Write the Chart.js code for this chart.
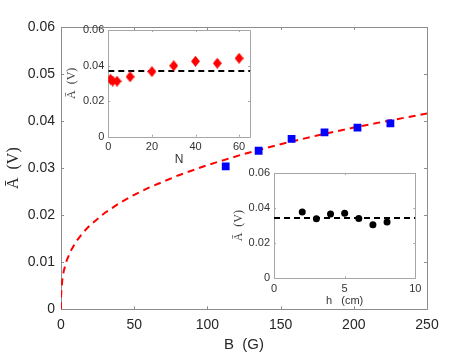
<!DOCTYPE html>
<html><head><meta charset="utf-8">
<script src="https://cdn.jsdelivr.net/npm/chart.js@4"></script>
<style>
html,body{margin:0;padding:0;background:#fff;}
#wrap{position:relative;width:472px;height:354px;overflow:hidden;}
canvas{position:absolute;}
</style></head><body>
<div id="wrap">
<canvas id="main" width="472" height="354" style="left:0;top:0"></canvas>
<canvas id="ins1" width="200" height="152" style="left:58px;top:18px"></canvas>
<canvas id="ins2" width="205" height="148" style="left:222px;top:160px"></canvas>
</div>
<script>
// ---- main panel data ----
const fieldB = [112.5, 135, 157.5, 180, 202.5, 225];
const ampB   = [0.0304, 0.0337, 0.0362, 0.0376, 0.0386, 0.0395];
const fitB = [0, 0.05, 0.25, 1, 2, 4, 7, 10, 15, 20, 30, 40, 50, 60, 80, 100, 125, 150, 175, 200, 225, 250];
const fitA = [0, 0.00243, 0.00416, 0.0066, 0.00832, 0.01048, 0.01263, 0.01423, 0.01629, 0.01793, 0.02052, 0.02258, 0.02433, 0.02585, 0.02845, 0.03065, 0.03302, 0.03509, 0.03694, 0.03862, 0.04016, 0.0416];
const mainXTicks = [0, 50, 100, 150, 200, 250];
const mainYTicks = [0, 0.01, 0.02, 0.03, 0.04, 0.05, 0.06];
const mainYLabels = ['0', '0.01', '0.02', '0.03', '0.04', '0.05', '0.06'];
// ---- inset 1 (N) ----
const nValues = [1, 2, 4, 10, 20, 30, 40, 50, 60];
const ampN    = [0.0323, 0.0313, 0.0312, 0.0337, 0.0366, 0.0399, 0.0424, 0.0413, 0.0441];
const meanN   = 0.037;
const insNXTicks = [0, 20, 40, 60];
// ---- inset 2 (h) ----
const hValues = [2, 3, 4, 5, 6, 7, 8];
const ampH    = [0.0378, 0.0339, 0.0366, 0.037, 0.0341, 0.0305, 0.0321];
const meanH   = 0.0343;
const insHXTicks = [0, 5, 10];
const insYTicks = [0, 0.02, 0.04, 0.06];
const insYLabels = ['0', '0.02', '0.04', '0.06'];

const SANS = 'Liberation Sans';
const SERIF = 'Liberation Serif';
const TXT = '#262626';

function framePlugin(len, color){
  return {
    id: 'frame',
    beforeDatasetsDraw(c){
      const a = c.chartArea, ctx = c.ctx;
      ctx.save();
      ctx.fillStyle = '#fff';
      ctx.fillRect(a.left, a.top, a.right - a.left, a.bottom - a.top);
      ctx.strokeStyle = color; ctx.lineWidth = 1;
      ctx.beginPath();
      ctx.rect(Math.round(a.left)+0.5, Math.round(a.top)+0.5, Math.round(a.right-a.left), Math.round(a.bottom-a.top));
      const xs = c.scales.x, ys = c.scales.y;
      xs.ticks.forEach(t => {
        const p = Math.round(xs.getPixelForValue(t.value)) + 0.5;
        ctx.moveTo(p, a.bottom); ctx.lineTo(p, a.bottom - len);
        ctx.moveTo(p, a.top); ctx.lineTo(p, a.top + len);
      });
      ys.ticks.forEach(t => {
        const p = Math.round(ys.getPixelForValue(t.value)) + 0.5;
        ctx.moveTo(a.left, p); ctx.lineTo(a.left + len, p);
        ctx.moveTo(a.right, p); ctx.lineTo(a.right - len, p);
      });
      ctx.stroke();
      ctx.restore();
    }
  };
}

function setTicks(arr){ return s => { s.ticks = arr.map(v => ({value: v})); }; }

function diamond(){
  const cv = document.createElement('canvas');
  cv.width = 9; cv.height = 11;
  const g = cv.getContext('2d');
  g.fillStyle = '#ff0000';
  g.beginPath(); g.moveTo(4.5, 0); g.lineTo(9, 5.5); g.lineTo(4.5, 11); g.lineTo(0, 5.5); g.closePath(); g.fill();
  return cv;
}

// ---- main chart ----
new Chart(document.getElementById('main'), {
  type: 'scatter',
  data: { datasets: [
    { data: fieldB.map((b, i) => ({x: b, y: ampB[i]})), pointStyle: 'rect', pointRadius: 5.5,
      backgroundColor: '#0000ff', borderColor: '#0000ff', borderWidth: 0, order: 0 },
    { data: fitB.map((b, i) => ({x: b, y: fitA[i]})), showLine: true, pointRadius: 0,
      borderColor: '#ff0000', borderWidth: 2, borderDash: [7, 5], fill: false, order: 1 }
  ]},
  options: {
    responsive: false, animation: false, devicePixelRatio: 1,
    layout: { padding: { left: 0, top: 27, right: 45, bottom: 0 } },
    plugins: { legend: { display: false }, tooltip: { enabled: false } },
    scales: {
      x: { type: 'linear', min: 0, max: 250, afterBuildTicks: setTicks(mainXTicks),
           afterFit: s => { s.height = 44.7; },
           grid: { display: false, drawTicks: false }, border: { display: false },
           ticks: { padding: 7, color: TXT, font: { family: SANS, size: 14 }, maxRotation: 0, autoSkip: false, callback: v => String(v) },
           title: { display: true, text: 'B  (G)', color: TXT, font: { family: SANS, size: 15 }, padding: { top: 0, bottom: 0 } } },
      y: { type: 'linear', min: 0, max: 0.06, afterBuildTicks: setTicks(mainYTicks),
           afterFit: s => { s.width = 61; },
           grid: { display: false, drawTicks: false }, border: { display: false },
           ticks: { padding: 6, color: TXT, font: { family: SANS, size: 14 }, autoSkip: false, callback: (v, i) => mainYLabels[i] },
           title: { display: true, text: 'Ā  (V)', color: TXT, font: { family: SERIF, size: 16 }, padding: { top: 4, bottom: 0 } } }
    }
  },
  plugins: [framePlugin(3, '#8c8c8c')]
});

// ---- inset 1 ----
new Chart(document.getElementById('ins1'), {
  type: 'scatter',
  data: { datasets: [
    { data: nValues.map((n, i) => ({x: n, y: ampN[i]})), pointStyle: diamond(), pointRadius: 5, order: 0 },
    { data: [{x: 0, y: meanN}, {x: 65, y: meanN}], showLine: true, pointRadius: 0,
      borderColor: '#000', borderWidth: 2, borderDash: [6, 4], order: 1 }
  ]},
  options: {
    responsive: false, animation: false, devicePixelRatio: 1,
    layout: { padding: { left: 0, top: 12, right: 8, bottom: 0 } },
    plugins: { legend: { display: false }, tooltip: { enabled: false } },
    scales: {
      x: { type: 'linear', min: 0, max: 65, afterBuildTicks: setTicks(insNXTicks),
           afterFit: s => { s.height = 33.3; },
           grid: { display: false, drawTicks: false }, border: { display: false },
           ticks: { padding: 4, color: '#333', font: { family: SANS, size: 11 }, maxRotation: 0, autoSkip: false, callback: v => String(v) },
           title: { display: true, text: 'N', color: '#333', font: { family: SANS, size: 12 }, padding: { top: 0, bottom: 3 } } },
      y: { type: 'linear', min: 0, max: 0.06, afterBuildTicks: setTicks(insYTicks),
           afterFit: s => { s.width = 50.3; },
           grid: { display: false, drawTicks: false }, border: { display: false },
           ticks: { padding: 4, color: '#333', font: { family: SANS, size: 11 }, autoSkip: false, callback: (v, i) => insYLabels[i] },
           title: { display: true, text: 'Ā  (V)', color: '#444', font: { family: SERIF, size: 12 }, padding: { top: 7, bottom: 0 } } }
    }
  },
  plugins: [framePlugin(2, '#a6a6a6')]
});

// ---- inset 2 ----
new Chart(document.getElementById('ins2'), {
  type: 'scatter',
  data: { datasets: [
    { data: hValues.map((h, i) => ({x: h, y: ampH[i]})), pointStyle: 'circle', pointRadius: 3.5,
      backgroundColor: '#000', borderColor: '#000', borderWidth: 0, order: 0 },
    { data: [{x: 0, y: meanH}, {x: 10, y: meanH}], showLine: true, pointRadius: 0,
      borderColor: '#000', borderWidth: 2, borderDash: [6, 4], order: 1 }
  ]},
  options: {
    responsive: false, animation: false, devicePixelRatio: 1,
    layout: { padding: { left: 0, top: 13, right: 11.7, bottom: 0 } },
    plugins: { legend: { display: false }, tooltip: { enabled: false } },
    scales: {
      x: { type: 'linear', min: 0, max: 10, afterBuildTicks: setTicks(insHXTicks),
           afterFit: s => { s.height = 29.7; },
           grid: { display: false, drawTicks: false }, border: { display: false },
           ticks: { padding: 4, color: '#333', font: { family: SANS, size: 11 }, maxRotation: 0, autoSkip: false, callback: v => String(v) },
           title: { display: true, text: 'h   (cm)', color: '#333', font: { family: SANS, size: 11 }, padding: { top: 0, bottom: 0 } } },
      y: { type: 'linear', min: 0, max: 0.06, afterBuildTicks: setTicks(insYTicks),
           afterFit: s => { s.width = 52; },
           grid: { display: false, drawTicks: false }, border: { display: false },
           ticks: { padding: 4, color: '#333', font: { family: SANS, size: 11 }, autoSkip: false, callback: (v, i) => insYLabels[i] },
           title: { display: true, text: 'Ā  (V)', color: '#444', font: { family: SERIF, size: 12 }, padding: { top: 10, bottom: 0 } } }
    }
  },
  plugins: [framePlugin(2, '#a6a6a6')]
});
</script>
</body></html>
